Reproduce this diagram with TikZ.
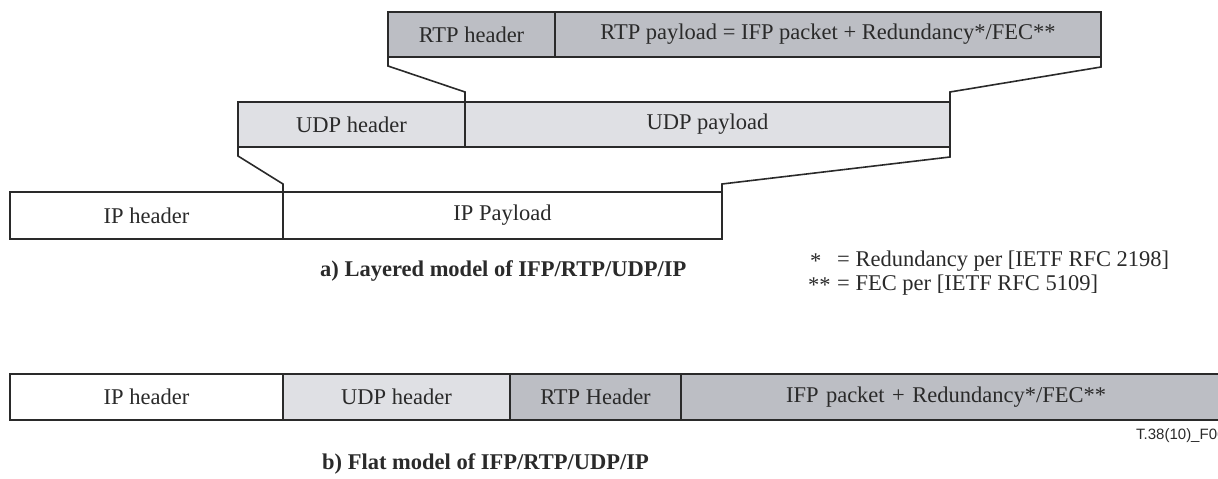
\documentclass[tikz,border=0pt]{standalone}
\usepackage{fontspec}
\setmainfont{Liberation Serif}
\newfontfamily\tagfont{Liberation Sans}
\usetikzlibrary{calc}
\definecolor{ink}{HTML}{2A2A2A}
\definecolor{udpgrey}{HTML}{DFE0E4}
\definecolor{rtpgrey}{HTML}{BCBEC4}
\tikzset{
  cell/.style={draw=ink, line width=1.6pt, rectangle, anchor=north west, inner sep=0pt, outer sep=0pt,
    text=ink, font=\fontsize{22.5}{27}\selectfont},
  conn/.style={draw=ink, line width=1.6pt},
  caption/.style={anchor=west, inner sep=0pt, text=ink, font=\fontsize{22.5}{27}\selectfont\bfseries},
  note/.style={anchor=west, inner sep=0pt, text=ink, font=\fontsize{22.5}{27}\selectfont},
}
\begin{document}
\begin{tikzpicture}[x=1pt, y=-1pt]
\useasboundingbox (0,0) rectangle (1218,479);
% layered model
\node[cell, fill=rtpgrey, minimum width=167pt, minimum height=45pt] (rtph) at (388,12) {RTP header};
\node[cell, fill=rtpgrey, minimum width=546pt, minimum height=45pt] (rtpp) at (555,12) {RTP payload = IFP packet + Redundancy*/FEC**};
\node[cell, fill=udpgrey, minimum width=227pt, minimum height=45pt] (udph) at (238,102) {UDP header};
\node[cell, fill=udpgrey, minimum width=485pt, minimum height=45pt] (udpp) at (465,102) {UDP payload};
\node[cell, fill=white, minimum width=273pt, minimum height=47pt] (iph) at (10,192) {IP header};
\node[cell, fill=white, minimum width=439pt, minimum height=47pt] (ipp) at (283,192) {IP Payload};
\draw[conn] (rtph.south west) -- ++(0,9) -- ($(udpp.north west)+(0,-10)$) -- (udpp.north west);
\draw[conn] (rtpp.south east) -- ++(0,10) -- ($(udpp.north east)+(0,-10)$) -- (udpp.north east);
\draw[conn] (udph.south west) -- ++(0,9) -- ($(ipp.north west)+(0,-8)$) -- (ipp.north west);
\draw[conn] (udpp.south east) -- ++(0,10) -- ($(ipp.north east)+(0,-8)$) -- (ipp.north east);
\node[caption] (capa) at (320,271) {a) Layered model of IFP/RTP/UDP/IP};
\node[note] (n1s) at (810,261) {*};
\node[note] (n1) at (837,261) {= Redundancy per [IETF RFC 2198]};
\node[note] (n2s) at (808,285) {**};
\node[note] (n2) at (837,285) {= FEC per [IETF RFC 5109]};
% flat model
\node[cell, fill=white, minimum width=273pt, minimum height=46pt] (fip) at (10,374) {IP header};
\node[cell, fill=udpgrey, minimum width=227pt, minimum height=46pt] (fudp) at (283,374) {UDP header};
\node[cell, fill=rtpgrey, minimum width=171pt, minimum height=46pt] (frtp) at (510,374) {RTP Header};
\node[cell, fill=rtpgrey, minimum width=550pt, minimum height=46pt, text width=550pt, align=left] (fifp) at (681,374) {\hspace*{105pt}IFP packet + Redundancy*/FEC**};
\node[anchor=west, inner sep=0pt, text=ink, font=\fontsize{15}{18}\selectfont\tagfont] (tag) at (1136,436) {T.38(10)\_F06};
\node[caption] (capb) at (322,464) {b) Flat model of IFP/RTP/UDP/IP};
\end{tikzpicture}
\end{document}
